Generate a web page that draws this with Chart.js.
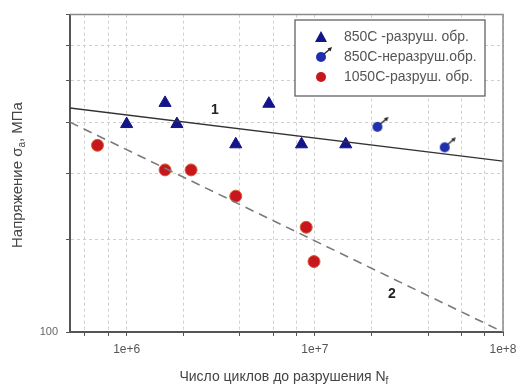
<!DOCTYPE html>
<html>
<head>
<meta charset="utf-8">
<script src="https://cdn.jsdelivr.net/npm/chart.js@4/dist/chart.umd.min.js"></script>
<style>
  body { margin: 0; background: #fff; }
  #chart { display: block; }
</style>
</head>
<body>
<canvas id="chart" width="517" height="385"></canvas>
<script>
// data
const failed850_x = [1.0e6, 1.6e6, 1.85e6, 3.8e6, 5.7e6, 8.5e6, 1.46e7];
const failed850_y = [248, 272, 248, 227, 271, 227, 227];
const runout850_x = [2.15e7, 4.9e7];
const runout850_y = [245, 224];
const failed1050_x = [7.0e5, 1.6e6, 2.2e6, 3.8e6, 9.0e6, 9.9e6];
const failed1050_y = [226, 203, 203, 181, 158, 136];
const fit1_x = [5e5, 1e8];
const fit1_y = [266, 211];
const fit2_x = [5e5, 1e8];
const fit2_y = [250, 100];
const xTicks = [6e5, 8e5, 1e6, 2e6, 4e6, 6e6, 8e6, 1e7, 2e7, 4e7, 6e7, 8e7, 1e8];
const yTicks = [100, 150, 200, 250, 300, 350, 400];
const legendLabels = ['850C -разруш. обр.', '850C-неразруш.обр.', '1050C-разруш. обр.'];
const curveLabels = [{ text: '1', x: 2.94e6, y: 263 }, { text: '2', x: 2.57e7, y: 118 }];

const pts = (xs, ys) => xs.map((x, i) => ({ x: x, y: ys[i] }));
const FONT = '"Liberation Sans", Arial, sans-serif';

// run-out marker: circle with a small arrow to the upper right
function makeRunoutIcon() {
  const c = document.createElement('canvas');
  c.width = 26; c.height = 26;
  const g = c.getContext('2d');
  g.fillStyle = '#1f2fae';
  g.beginPath(); g.arc(13, 13, 5, 0, Math.PI * 2); g.fill();
  g.strokeStyle = '#222'; g.lineWidth = 1.3;
  g.beginPath(); g.moveTo(16, 10); g.lineTo(22, 5); g.stroke();
  g.fillStyle = '#222';
  g.beginPath(); g.moveTo(24, 3); g.lineTo(19.5, 4.5); g.lineTo(22.5, 7.5); g.closePath(); g.fill();
  return c;
}
const runoutIcon = makeRunoutIcon();

const frameAndText = {
  id: 'frameAndText',
  afterDraw(chart) {
    const ctx = chart.ctx;
    const a = chart.chartArea;
    const xs = chart.scales.x, ys = chart.scales.y;
    ctx.save();
    // top and right frame
    ctx.strokeStyle = '#8a8a8a'; ctx.lineWidth = 1.5;
    ctx.beginPath();
    ctx.moveTo(a.left, a.top); ctx.lineTo(a.right, a.top); ctx.lineTo(a.right, a.bottom);
    ctx.stroke();

    // curve numbers
    ctx.fillStyle = '#222';
    ctx.font = 'bold 14px ' + FONT;
    ctx.textAlign = 'center'; ctx.textBaseline = 'middle';
    curveLabels.forEach(l => ctx.fillText(l.text, xs.getPixelForValue(l.x), ys.getPixelForValue(l.y)));

    // legend box
    const bx = 295, by = 20, bw = 190, bh = 76;
    ctx.fillStyle = '#fff';
    ctx.fillRect(bx, by, bw, bh);
    ctx.strokeStyle = '#555'; ctx.lineWidth = 1.2;
    ctx.strokeRect(bx, by, bw, bh);
    ctx.font = '14px ' + FONT;
    ctx.textAlign = 'left';
    legendLabels.forEach((t, i) => {
      const my = by + 17 + i * 20, mx = bx + 26;
      if (i === 0) {
        ctx.fillStyle = '#14148a';
        ctx.beginPath(); ctx.moveTo(mx, my - 6); ctx.lineTo(mx + 6, my + 5); ctx.lineTo(mx - 6, my + 5); ctx.closePath(); ctx.fill();
      } else if (i === 1) {
        ctx.drawImage(runoutIcon, mx - 13, my - 13);
      } else {
        ctx.fillStyle = '#c8161e';
        ctx.beginPath(); ctx.arc(mx, my, 5, 0, Math.PI * 2); ctx.fill();
      }
      ctx.fillStyle = '#555';
      ctx.fillText(t, bx + 49, my);
    });

    // axis titles with subscripts
    ctx.fillStyle = '#444';
    ctx.font = '14px ' + FONT;
    const xt = 'Число циклов до разрушения N';
    const xw = ctx.measureText(xt).width;
    const xcx = (a.left + a.right) / 2 - 4;
    ctx.textAlign = 'left';
    ctx.fillText(xt, xcx - xw / 2, 377);
    ctx.font = '10px ' + FONT;
    ctx.fillText('f', xcx + xw / 2, 381);

    ctx.translate(18, 175);
    ctx.rotate(-Math.PI / 2);
    ctx.font = '15px ' + FONT;
    const y1 = 'Напряжение σ', y2 = ', МПа';
    const w1 = ctx.measureText(y1).width, w2 = ctx.measureText(y2).width;
    ctx.font = '10px ' + FONT;
    const ws = ctx.measureText('a').width;
    let sx = -(w1 + ws + w2) / 2;
    ctx.font = '15px ' + FONT;
    ctx.fillText(y1, sx, 0);
    ctx.font = '10px ' + FONT;
    ctx.fillText('a', sx + w1, 4);
    ctx.font = '15px ' + FONT;
    ctx.fillText(y2, sx + w1 + ws, 0);
    ctx.restore();
  }
};

new Chart(document.getElementById('chart'), {
  type: 'scatter',
  data: {
    datasets: [
      {
        label: 'fit1', data: pts(fit1_x, fit1_y), showLine: true,
        borderColor: '#333', borderWidth: 1.3, pointRadius: 0
      },
      {
        label: 'fit2', data: pts(fit2_x, fit2_y), showLine: true,
        borderColor: '#7a7a7a', borderWidth: 1.6, borderDash: [9, 6], pointRadius: 0
      },
      {
        label: legendLabels[0], data: pts(failed850_x, failed850_y),
        pointStyle: 'triangle', pointRadius: 7, backgroundColor: '#14148a', borderColor: '#14148a', borderWidth: 1
      },
      {
        label: legendLabels[1], data: pts(runout850_x, runout850_y),
        pointStyle: runoutIcon, pointRadius: 6
      },
      {
        label: legendLabels[2], data: pts(failed1050_x, failed1050_y),
        pointStyle: 'circle', pointRadius: 6, backgroundColor: '#c8161e', borderColor: '#d9602e', borderWidth: 1
      }
    ]
  },
  options: {
    responsive: false,
    animation: false,
    layout: { padding: { top: 13, right: 0, left: 0, bottom: 0 } },
    plugins: { legend: { display: false }, tooltip: { enabled: false } },
    scales: {
      x: {
        type: 'logarithmic', min: 5e5, max: 1e8,
        afterBuildTicks: s => { s.ticks = xTicks.map(v => ({ value: v })); },
        afterFit: s => { s.height = 53; s.paddingLeft = 0; s.paddingRight = 14; },
        ticks: {
          autoSkip: false, maxRotation: 0, color: '#555', padding: 6,
          font: { size: 12, family: FONT },
          callback: v => {
            const e = Math.log10(v);
            return Math.abs(e - Math.round(e)) < 1e-9 ? '1e+' + Math.round(e) : '';
          }
        },
        grid: { color: '#cfcfcf', tickColor: '#555', tickLength: 4, lineWidth: 1 },
        border: { color: '#555', width: 2, dash: [3, 3] }
      },
      y: {
        type: 'logarithmic', min: 100, max: 400,
        afterBuildTicks: s => { s.ticks = yTicks.map(v => ({ value: v })); },
        afterFit: s => { s.width = 70; },
        ticks: {
          autoSkip: false, color: '#666', padding: 8,
          font: { size: 11, family: FONT },
          callback: v => (v === 100 ? '100' : '')
        },
        grid: { color: '#cfcfcf', tickColor: '#555', tickLength: 4, lineWidth: 1 },
        border: { color: '#555', width: 2, dash: [3, 3] }
      }
    }
  },
  plugins: [frameAndText]
});
</script>
</body>
</html>
